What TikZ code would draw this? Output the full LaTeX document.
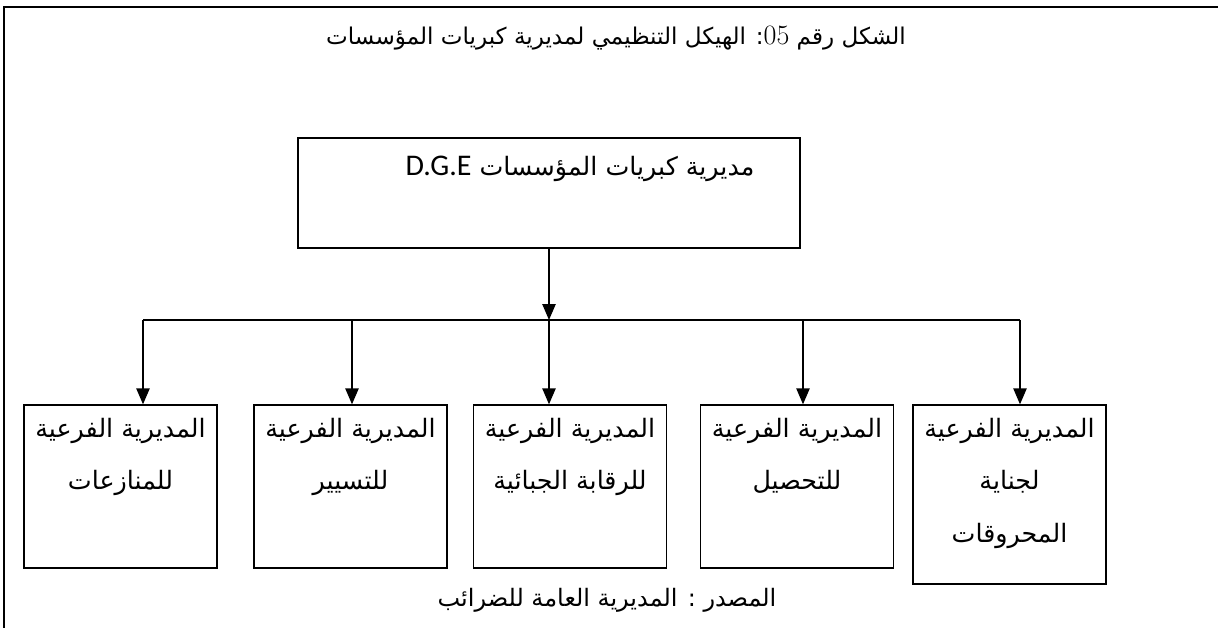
\documentclass[tikz,border=0pt]{standalone}
\usepackage{fontspec}
\usepackage{tikz}
\usetikzlibrary{arrows.meta,positioning,calc}
\TeXXeTstate=1
\newfontfamily\arabicfont[Script=Arabic]{DejaVu Sans}
\newfontfamily\latinsans{Carlito}
\tikzset{
  direction/.style={rectangle, draw=black, line width=1pt, inner sep=0pt},
  sousdir/.style={rectangle, draw=black, line width=1pt, inner sep=0pt,
                  minimum width=144.75pt, minimum height=122.25pt},
  texte/.style={inner sep=0pt, align=center, anchor=north,
                font={\arabicfont\fontsize{19pt}{39.5pt}\selectfont}},
  fleche/.style={-{Triangle[length=12pt,width=10pt]}, line width=1.1pt},
  trait/.style={line width=1.1pt},
}

\begin{document}
\begin{tikzpicture}[x=0.75pt, y=-0.75pt]
  \useasboundingbox (0,0) rectangle (1218,628);
  % cadre
  \draw[line width=1.9pt] (4,628) -- (4,7) -- (1218,7);

  \node[font={\arabicfont\fontsize{17.3pt}{20pt}\selectfont}] (titre) at (616,38)
    {\beginR الشكل رقم \beginL{\rmfamily\fontsize{21pt}{20pt}\selectfont 05}\endL: الهيكل التنظيمي لمديرية كبريات المؤسسات\endR};

  % direction principale
  \node[direction, minimum width=376.5pt, minimum height=82.5pt] (dge) at (549,193) {};
  \node[font={\arabicfont\fontsize{19pt}{22pt}\selectfont}] (dgetxt) at (580,169)
    {\beginR مديرية كبريات المؤسسات \beginL{\latinsans\fontsize{22.5pt}{22pt}\selectfont D.G.E}\endL\endR};

  % sous-directions
  \node[sousdir] (s1) at (120.5,486.5) {};
  \node[sousdir] (s2) at (350.5,486.5) {};
  \node[sousdir] (s3) at (570,486.5) {};
  \node[sousdir] (s4) at (797,486.5) {};
  \node[sousdir, minimum height=134.25pt] (s5) at (1009.5,494.5) {};

  \node[texte, below=10pt of s1.north] (t1) {\beginR المديرية الفرعية\endR\\\beginR للمنازعات\endR};
  \node[texte, below=10pt of s2.north] (t2) {\beginR المديرية الفرعية\endR\\\beginR للتسيير\endR};
  \node[texte, below=10pt of s3.north] (t3) {\beginR المديرية الفرعية\endR\\\beginR للرقابة الجبائية\endR};
  \node[texte, below=10pt of s4.north] (t4) {\beginR المديرية الفرعية\endR\\\beginR للتحصيل\endR};
  \node[texte, below=10pt of s5.north] (t5) {\beginR المديرية الفرعية\endR\\\beginR لجناية\endR\\\beginR المحروقات\endR};

  % liaisons
  \coordinate (b1) at (143,320);
  \coordinate (b2) at (352,320);
  \coordinate (b3) at (549,320);
  \coordinate (b4) at (803,320);
  \coordinate (b5) at (1020,320);
  \draw[trait] (b1) -- (b5);
  \draw[fleche] (dge.south) -- (b3);
  \draw[fleche] (b1) -- (b1 |- s1.north);
  \draw[fleche] (b2) -- (b2 |- s2.north);
  \draw[fleche] (b3) -- (b3 |- s3.north);
  \draw[fleche] (b4) -- (b4 |- s4.north);
  \draw[fleche] (b5) -- (b5 |- s5.north);

  \node[font={\arabicfont\fontsize{18pt}{20pt}\selectfont}] (source) at (607,600)
    {\beginR المصدر : المديرية العامة للضرائب\endR};
\end{tikzpicture}
\end{document}
